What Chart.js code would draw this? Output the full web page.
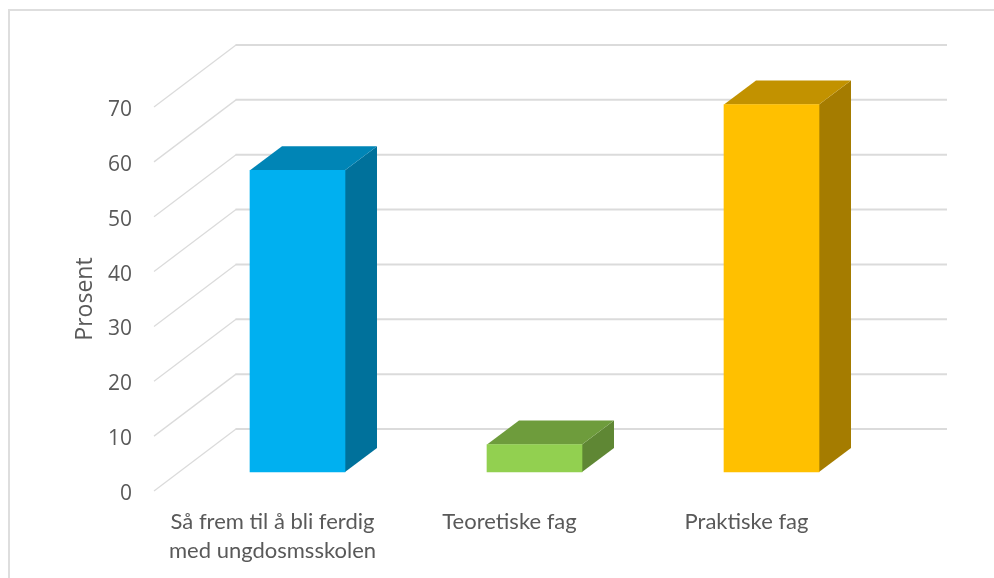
<!DOCTYPE html>
<html>
<head>
<meta charset="utf-8">
<style>
html,body{margin:0;padding:0;background:#fff;width:994px;height:578px;overflow:hidden}
#frame{position:absolute;left:8px;top:9px;width:986px;height:569px;border-left:2px solid #DEDEDE;border-top:2px solid #DEDEDE;box-sizing:border-box}
#wrap{position:absolute;left:0;top:0;width:994px;height:578px}
</style>
<script src="https://cdn.jsdelivr.net/npm/chart.js@4"></script>
</head>
<body>
<div id="frame"></div>
<div id="wrap"><canvas id="c" width="994" height="578"></canvas></div>
<script>
const categories = [["Så frem til å bli ferdig","med ungdosmsskolen"],"Teoretiske fag","Praktiske fag"];
const values = [55, 5, 67];
const frontColors = ["#00B0F0","#92D050","#FFC000"];
const topColors = ["#0085B6","#6E9C3C","#C29200"];
const sideColors = ["#00719B","#5F8734","#A57C00"];
const axisTitle = "Prosent";
const FONT = "'Open Sans', sans-serif";
const CAT_FONT = "Lato, sans-serif";
const TEXT = "#595959";
const GRID = "#DBDBDB";
// perspective of the 3D box: wall offset and bar placement relative to the front plane
const WALL = {dx: 82, dy: -62};
const BAR = {dx: 25, dy: -19};
const DEPTH = {dx: 32, dy: -24};
const TICK_DROP = 3;

const poly = (ctx, pts, fill) => {
  ctx.beginPath();
  pts.forEach((p, i) => i ? ctx.lineTo(p[0], p[1]) : ctx.moveTo(p[0], p[1]));
  ctx.closePath();
  ctx.fillStyle = fill;
  ctx.fill();
};

const box3d = {
  id: "box3d",
  beforeDraw(chart) {
    const y = chart.scales.y;
    y.getLabelItems().forEach(item => { item.textOffset += TICK_DROP; });
  },
  beforeDatasetsDraw(chart) {
    const {ctx, scales: {y}, chartArea: a} = chart;
    ctx.save();
    ctx.strokeStyle = GRID;
    y.ticks.forEach(t => {
      const py = y.getPixelForValue(t.value);
      ctx.lineWidth = 1.3;
      ctx.beginPath();
      ctx.moveTo(a.left, py);
      ctx.lineTo(a.left + WALL.dx, py + WALL.dy);
      ctx.stroke();
      ctx.lineWidth = 2;
      ctx.beginPath();
      ctx.moveTo(a.left + WALL.dx - 0.5, py + WALL.dy);
      ctx.lineTo(a.right + WALL.dx, py + WALL.dy);
      ctx.stroke();
    });
    ctx.restore();
    ctx.save();
    ctx.translate(BAR.dx, BAR.dy);
    chart.getDatasetMeta(0).data.forEach((b, i) => {
      const l = b.x - b.width / 2, r = b.x + b.width / 2;
      poly(ctx, [[r, b.y], [r + DEPTH.dx, b.y + DEPTH.dy], [r + DEPTH.dx, b.base + DEPTH.dy], [r, b.base]], sideColors[i]);
      poly(ctx, [[l, b.y], [l + DEPTH.dx, b.y + DEPTH.dy], [r + DEPTH.dx, b.y + DEPTH.dy], [r, b.y]], topColors[i]);
    });
  },
  afterDatasetsDraw(chart) {
    chart.ctx.restore();
  }
};

new Chart(document.getElementById("c"), {
  type: "bar",
  data: {
    labels: categories,
    datasets: [{data: values, backgroundColor: frontColors, borderWidth: 0, barThickness: 95, clip: false}]
  },
  plugins: [box3d],
  options: {
    responsive: false,
    animation: false,
    layout: {padding: {top: 107, right: 129, left: 0, bottom: 0}},
    plugins: {legend: {display: false}, tooltip: {enabled: false}, title: {display: false}},
    scales: {
      x: {
        grid: {display: false, drawTicks: false},
        border: {display: false},
        ticks: {color: TEXT, font: {family: CAT_FONT, size: 22, lineHeight: "29px"}, padding: 16, maxRotation: 0, minRotation: 0, autoSkip: false},
        afterFit(s) { s.height = 87; }
      },
      y: {
        min: 0, max: 70,
        grid: {display: false, drawTicks: false},
        border: {display: false},
        ticks: {stepSize: 10, color: TEXT, font: {family: FONT, size: 21}, padding: 22},
        title: {display: true, text: axisTitle, color: TEXT, font: {family: FONT, size: 23}, padding: {top: 72, bottom: 0}},
        afterFit(s) { s.width = 154; }
      }
    }
  }
});
</script>
</body>
</html>
